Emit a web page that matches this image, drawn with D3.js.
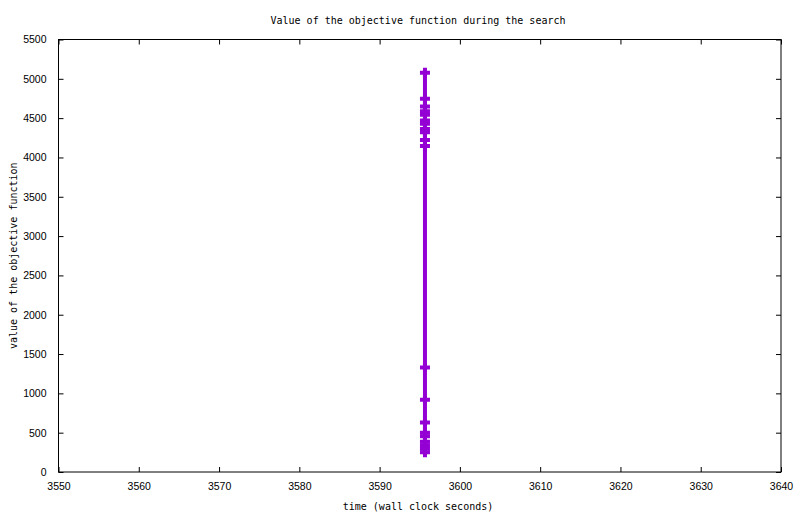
<!DOCTYPE html>
<html>
<head>
<meta charset="utf-8">
<script src="https://cdn.jsdelivr.net/npm/d3@7"></script>
<style>
  body { margin: 0; background: #fff; }
  svg { display: block; }
  .lbl { font-family: "DejaVu Sans Mono", monospace; font-size: 10px; fill: #000; }
  .tick text { font-family: "Liberation Sans", Arial, sans-serif; font-size: 10.5px; fill: #000; }
</style>
</head>
<body>
<svg id="chart" width="800" height="514"></svg>
<script>
// search progress: wall clock time vs objective value
let times = [3595.65, 3595.65, 3595.65, 3595.65, 3595.65, 3595.65, 3595.65, 3595.65, 3595.65, 3595.65, 3595.65,
             3595.65, 3595.65, 3595.65, 3595.65, 3595.65, 3595.65, 3595.65, 3595.65, 3595.65];
let values = [5076, 4745, 4649, 4586, 4542, 4471, 4428, 4361, 4319, 4221, 4145,
              1329, 918, 630, 500, 455, 385, 340, 296, 251];

let xTicks = [3550, 3560, 3570, 3580, 3590, 3600, 3610, 3620, 3630, 3640];
let yTicks = [0, 500, 1000, 1500, 2000, 2500, 3000, 3500, 4000, 4500, 5000, 5500];

let titleText = "Value of the objective function during the search";
let xLabel = "time (wall clock seconds)";
let yLabel = "value of the objective function";

let svg = d3.select("#chart");
let margin = {top: 39.5, right: 19, bottom: 42, left: 58.5};
let width = 800 - margin.left - margin.right;
let height = 514 - margin.top - margin.bottom;

let x = d3.scaleLinear().domain([3550, 3640]).range([margin.left, margin.left + width]);
let y = d3.scaleLinear().domain([0, 5500]).range([margin.top + height, margin.top]);

let tickLen = 5;

// bottom and top axes (gnuplot style: inward ticks, mirrored)
svg.append("g")
    .attr("transform", "translate(0," + (margin.top + height) + ")")
    .call(d3.axisBottom(x).tickValues(xTicks).tickSize(-tickLen).tickPadding(11).tickFormat(d3.format("d")))
    .call(g => g.select(".domain").remove());
svg.append("g")
    .attr("transform", "translate(0," + margin.top + ")")
    .call(d3.axisTop(x).tickValues(xTicks).tickSize(-tickLen).tickFormat(""))
    .call(g => g.select(".domain").remove());

// left and right axes
svg.append("g")
    .attr("transform", "translate(" + margin.left + ",0)")
    .call(d3.axisLeft(y).tickValues(yTicks).tickSize(-tickLen).tickPadding(12).tickFormat(d3.format("d")))
    .call(g => g.select(".domain").remove());
svg.append("g")
    .attr("transform", "translate(" + (margin.left + width) + ",0)")
    .call(d3.axisRight(y).tickValues(yTicks).tickSize(-tickLen).tickFormat(""))
    .call(g => g.select(".domain").remove());

svg.selectAll(".tick line").attr("stroke", "#000").attr("stroke-width", 1);

// plot border
svg.append("rect")
    .attr("x", margin.left)
    .attr("y", margin.top)
    .attr("width", width)
    .attr("height", height)
    .attr("fill", "none")
    .attr("stroke", "#000")
    .attr("stroke-width", 1);

// line
let pts = times.map((t, i) => [t, values[i]]);
let line = d3.line().x(d => x(d[0])).y(d => y(d[1]));
let purple = "#9400d3";

svg.append("path")
    .datum(pts)
    .attr("d", line)
    .attr("fill", "none")
    .attr("stroke", purple)
    .attr("stroke-width", 4);

// cross markers
svg.selectAll("path.pt")
    .data(pts)
    .enter()
    .append("path")
    .attr("class", "pt")
    .attr("d", d => {
        let cx = x(d[0]), cy = y(d[1]);
        return "M" + (cx - 5) + "," + cy + "H" + (cx + 5) + "M" + cx + "," + (cy - 5) + "V" + (cy + 5);
    })
    .attr("stroke", purple)
    .attr("stroke-width", 4)
    .attr("fill", "none");

// texts
svg.append("text")
    .attr("class", "lbl")
    .attr("x", 418)
    .attr("y", 24)
    .attr("text-anchor", "middle")
    .text(titleText);

svg.append("text")
    .attr("class", "lbl")
    .attr("x", 418)
    .attr("y", 510)
    .attr("text-anchor", "middle")
    .text(xLabel);

svg.append("text")
    .attr("class", "lbl")
    .attr("transform", "translate(16.5," + (margin.top + height / 2) + ") rotate(-90)")
    .attr("text-anchor", "middle")
    .text(yLabel);
</script>
</body>
</html>
